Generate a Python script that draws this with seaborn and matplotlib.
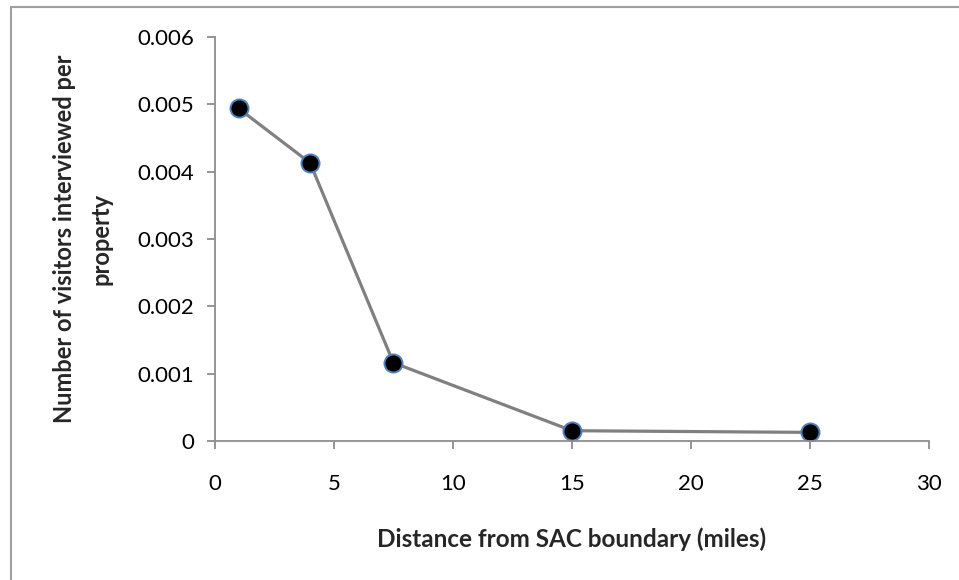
import numpy as np
import pandas as pd
import matplotlib
matplotlib.use("Agg")
import matplotlib.pyplot as plt
import seaborn as sns
from matplotlib.lines import Line2D

# values
distance = [1, 4, 7.5, 15, 25]
visitors = [0.00494, 0.00413, 0.00116, 0.000150, 0.000125]
x_ticks = [0, 5, 10, 15, 20, 25, 30]
y_ticks = [0, 0.001, 0.002, 0.003, 0.004, 0.005, 0.006]
y_tick_labels = ["0", "0.001", "0.002", "0.003", "0.004", "0.005", "0.006"]

df = pd.DataFrame({"distance": distance, "visitors": visitors})

sns.set_style("white")
plt.rcParams['font.family'] = ['Lato', 'DejaVu Sans']

fig = plt.figure(figsize=(9.59, 5.80), dpi=100)
ax = fig.add_axes([0.224, 0.240, 0.745, 0.696])

sns.lineplot(data=df, x="distance", y="visitors", ax=ax, color="#808080",
             linewidth=2.3, marker="o", markersize=13, markerfacecolor="black",
             markeredgecolor="#4F81BD", markeredgewidth=1.4)

ax.set_xlim(0, 30)
ax.set_ylim(0, 0.006)
ax.set_xticks(x_ticks)
ax.set_xticklabels([str(t) for t in x_ticks])
ax.set_yticks(y_ticks)
ax.set_yticklabels(y_tick_labels)

sns.despine(ax=ax)
for side in ["left", "bottom"]:
    ax.spines[side].set_color("#8c8c8c")
    ax.spines[side].set_linewidth(1.3)
ax.tick_params(axis="both", direction="out", length=6, width=1.3, color="#8c8c8c",
               labelsize=16, labelcolor="black")
ax.tick_params(axis="x", bottom=True, pad=18)
ax.tick_params(axis="y", left=True, pad=9)

ax.set_xlabel("Distance from SAC boundary (miles)", fontsize=17.5, fontweight="bold", labelpad=24)
ax.set_ylabel("Number of visitors interviewed per\nproperty", fontsize=17,
              fontweight="bold", labelpad=18, linespacing=1.7)

# chart area border (top and left visible)
fig.add_artist(Line2D([11/959, 11/959], [0, 1 - 7/580], transform=fig.transFigure,
                      color="#a0a0a0", linewidth=1.5))
fig.add_artist(Line2D([11/959, 1], [1 - 7/580, 1 - 7/580], transform=fig.transFigure,
                      color="#a0a0a0", linewidth=1.5))

fig.savefig("out.png", dpi=100)
